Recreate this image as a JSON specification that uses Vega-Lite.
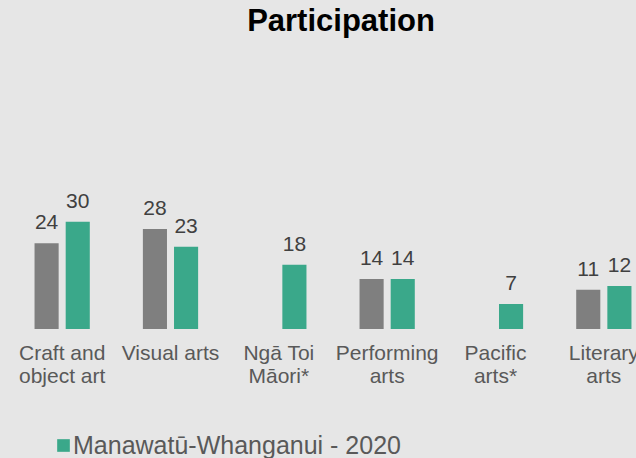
{
  "$schema": "https://vega.github.io/schema/vega-lite/v6.json",
  "autosize": "none",
  "padding": {"left": 8, "top": 61, "right": 0, "bottom": 129},
  "width": 650,
  "height": 268,
  "background": "#e6e6e6",
  "title": {"text": "Participation", "fontSize": 31, "font": "Liberation Sans", "fontWeight": "bold", "color": "#000000", "anchor": "middle", "baseline": "alphabetic", "offset": -1, "dx": 8},
  "data": {"values": [
    {"category": "Craft and object art", "series": "Manawatū-Whanganui - 2017", "value": 24},
    {"category": "Craft and object art", "series": "Manawatū-Whanganui - 2020", "value": 30},
    {"category": "Visual arts", "series": "Manawatū-Whanganui - 2017", "value": 28},
    {"category": "Visual arts", "series": "Manawatū-Whanganui - 2020", "value": 23},
    {"category": "Ngā Toi Māori*", "series": "Manawatū-Whanganui - 2020", "value": 18},
    {"category": "Performing arts", "series": "Manawatū-Whanganui - 2017", "value": 14},
    {"category": "Performing arts", "series": "Manawatū-Whanganui - 2020", "value": 14},
    {"category": "Pacific arts*", "series": "Manawatū-Whanganui - 2020", "value": 7},
    {"category": "Literary arts", "series": "Manawatū-Whanganui - 2017", "value": 11},
    {"category": "Literary arts", "series": "Manawatū-Whanganui - 2020", "value": 12}
  ]},
  "encoding": {
    "x": {"field": "category", "type": "nominal", "sort": null,
      "scale": {"paddingInner": 0.49, "paddingOuter": 0.245},
      "axis": {"title": null, "domain": false, "ticks": false, "labelAngle": 0, "labelFont": "Liberation Sans", "labelFontSize": 21, "labelColor": "#595959", "labelPadding": 13, "labelLineHeight": 23, "labelLimit": 0,
        "labelExpr": "datum.value == 'Craft and object art' ? ['Craft and', 'object art'] : datum.value == 'Ngā Toi Māori*' ? ['Ngā Toi', 'Māori*'] : datum.value == 'Performing arts' ? ['Performing', 'arts'] : datum.value == 'Pacific arts*' ? ['Pacific', 'arts*'] : datum.value == 'Literary arts' ? ['Literary', 'arts'] : datum.value"}},
    "xOffset": {"field": "series", "type": "nominal", "scale": {"domain": ["Manawatū-Whanganui - 2017", "Manawatū-Whanganui - 2020"], "paddingInner": 0.226, "paddingOuter": 0}},
    "y": {"field": "value", "type": "quantitative", "scale": {"domain": [0, 75]}, "axis": null}
  },
  "layer": [
    {"mark": {"type": "bar"},
      "encoding": {"color": {"field": "series", "type": "nominal",
        "scale": {"domain": ["Manawatū-Whanganui - 2017", "Manawatū-Whanganui - 2020"], "range": ["#7f7f7f", "#3aa88a"]},
        "legend": {"title": null, "values": ["Manawatū-Whanganui - 2020"], "orient": "none", "legendX": 43, "legendY": 372, "symbolType": "square", "symbolSize": 160, "symbolStrokeWidth": 0, "labelFont": "Liberation Sans", "labelFontSize": 25, "labelColor": "#595959", "labelOffset": -3, "labelLimit": 0, "padding": 0}}}},
    {"mark": {"type": "text", "baseline": "alphabetic", "dy": -14, "fontSize": 21, "font": "Liberation Sans", "color": "#404040"},
      "encoding": {"text": {"field": "value", "type": "quantitative"}}}
  ],
  "config": {"view": {"stroke": null}, "axis": {"grid": false}}
}
